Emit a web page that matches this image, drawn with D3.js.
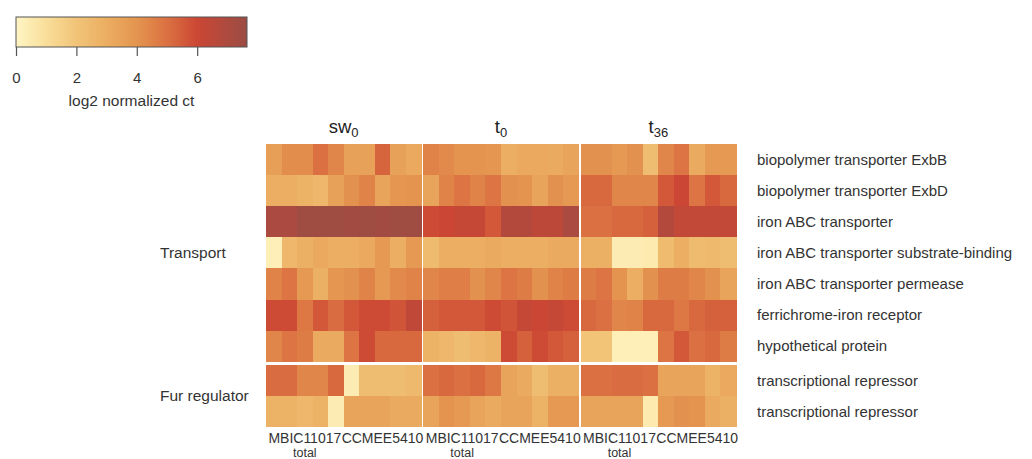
<!DOCTYPE html>
<html>
<head>
<meta charset="utf-8">
<script src="https://cdn.jsdelivr.net/npm/d3@7"></script>
<style>
  html, body { margin: 0; padding: 0; background: #fff; }
  svg { display: block; font-family: "Liberation Sans", Arial, Helvetica, sans-serif; }
</style>
</head>
<body>
<svg id="chart" width="1032" height="459"></svg>
<script>
// Gene rows (top to bottom) and their functional groups
const geneLabels = [
  "biopolymer transporter ExbB",
  "biopolymer transporter ExbD",
  "iron ABC transporter",
  "iron ABC transporter substrate-binding",
  "iron ABC transporter permease",
  "ferrichrome-iron receptor",
  "hypothetical protein",
  "transcriptional repressor",
  "transcriptional repressor"
];
const groupNames = ["Transport", "Fur regulator"];
const groupSizes = [7, 2];

// Conditions (panels) and strains within each panel
const conditionBase = ["sw", "t", "t"];
const conditionSub = ["0", "0", "36"];
const strains = ["MBIC11017", "CCMEE5410"];
const strainSubLabels = ["total", ""];
const replicatesPerStrain = 5;

// log2 normalized counts: rows = genes, columns = 5 MBIC11017 + 5 CCMEE5410 samples
const sw0Values = [
  [3.6, 4.2, 4.2, 5.0, 4.4, 3.5, 3.5, 5.3, 3.5, 3.2],
  [3.0, 3.0, 2.8, 2.6, 3.5, 4.1, 4.5, 3.4, 3.9, 4.0],
  [7.1, 7.1, 7.5, 7.5, 7.5, 7.4, 7.5, 7.4, 7.5, 7.5],
  [0.3, 2.6, 2.9, 3.2, 3.0, 3.0, 3.2, 3.8, 3.0, 3.8],
  [4.5, 4.9, 3.8, 2.9, 3.9, 4.1, 4.5, 3.8, 4.3, 4.5],
  [5.9, 5.9, 4.8, 5.6, 5.1, 5.6, 5.9, 5.9, 5.7, 6.4],
  [4.4, 4.9, 4.7, 3.1, 3.1, 4.9, 5.9, 5.2, 5.2, 5.2],
  [5.1, 5.1, 4.4, 4.4, 5.2, 0.4, 2.3, 2.3, 2.3, 2.5],
  [2.8, 2.8, 2.6, 2.8, 0.4, 3.4, 3.4, 3.4, 3.1, 3.1]
];
const t0Values = [
  [4.5, 4.3, 4.0, 4.0, 3.9, 3.0, 3.2, 3.2, 3.1, 3.4],
  [3.4, 4.5, 4.9, 4.5, 4.9, 4.1, 4.0, 3.4, 4.1, 3.8],
  [5.9, 6.0, 6.2, 6.2, 5.6, 6.8, 6.8, 6.5, 6.5, 7.1],
  [2.4, 3.0, 3.0, 3.0, 3.1, 3.0, 3.0, 3.0, 3.1, 3.1],
  [4.4, 4.6, 4.6, 4.1, 4.4, 4.9, 4.7, 4.1, 4.5, 4.7],
  [5.4, 5.6, 5.6, 5.6, 5.9, 5.7, 6.2, 6.0, 6.2, 5.9],
  [2.8, 2.6, 2.3, 2.6, 2.8, 5.9, 5.4, 5.9, 5.6, 5.4],
  [5.0, 5.2, 5.0, 5.2, 4.8, 3.4, 3.1, 2.3, 2.9, 2.9],
  [3.4, 4.0, 3.8, 3.4, 3.1, 3.4, 3.4, 2.8, 3.8, 3.8]
];
const t36Values = [
  [4.1, 4.1, 3.8, 4.1, 2.3, 4.4, 4.9, 3.1, 3.8, 3.8],
  [5.2, 5.2, 4.4, 4.4, 4.4, 5.6, 6.0, 4.9, 5.6, 5.2],
  [5.0, 5.0, 5.2, 5.2, 5.4, 6.8, 6.3, 6.3, 6.3, 6.3],
  [2.9, 2.9, 0.4, 0.4, 0.5, 2.4, 3.0, 2.4, 2.5, 2.3],
  [4.7, 4.9, 4.0, 3.0, 4.1, 4.7, 4.7, 4.4, 4.1, 3.4],
  [5.2, 5.0, 4.4, 4.5, 5.2, 5.2, 4.8, 5.2, 5.4, 5.4],
  [2.0, 2.0, 0.3, 0.3, 0.3, 4.9, 5.6, 5.0, 5.2, 4.7],
  [5.0, 5.0, 5.1, 5.1, 5.0, 3.4, 3.4, 3.4, 2.8, 3.2],
  [3.4, 3.4, 3.4, 3.4, 0.5, 3.8, 4.1, 4.0, 3.1, 2.9]
];
const panelValues = [sw0Values, t0Values, t36Values];

// Colour key
const colorStops = [0, 1, 2, 3, 4, 5, 6, 7, 7.65];
const colorRange = ["#fff6c4", "#f8de9a", "#f1c478", "#ebae62", "#e4944f", "#db7142", "#cb4634", "#ad4a3f", "#9b4c44"];
const legendTicks = [0, 2, 4, 6];
const legendTitle = "log2 normalized ct";

const svg = d3.select("#chart");
const textColor = "#333";

const color = d3.scaleLinear()
  .domain(colorStops)
  .range(colorRange)
  .interpolate(d3.interpolateLab)
  .clamp(true);

// ---- Heatmap layout ----
const heatLeft = 266, heatRight = 736;
const heatTop = 144, rowH = 31.1, groupGap = 3;

const panelX = d3.scaleBand()
  .domain(d3.range(conditionBase.length))
  .range([heatLeft, heatRight])
  .paddingInner(0.0128);

const nCols = strains.length * replicatesPerStrain;
const colX = d3.scaleBand()
  .domain(d3.range(nCols))
  .range([0, panelX.bandwidth()]);

// row index -> group index
const rowGroup = [];
groupSizes.forEach((n, g) => { for (let i = 0; i < n; i++) rowGroup.push(g); });

const rowY = d3.scaleBand()
  .domain(d3.range(geneLabels.length))
  .range([heatTop, heatTop + rowH * geneLabels.length]);
const yOf = i => rowY(i) + rowGroup[i] * groupGap;

// Cells
const cells = [];
panelValues.forEach((mat, p) => {
  mat.forEach((row, r) => {
    row.forEach((v, c) => cells.push({ p, r, c, v }));
  });
});

svg.append("g")
  .attr("shape-rendering", "crispEdges")
  .selectAll("rect")
  .data(cells)
  .join("rect")
  .attr("x", d => panelX(d.p) + colX(d.c))
  .attr("y", d => yOf(d.r))
  .attr("width", colX.bandwidth() + 0.5)
  .attr("height", rowY.bandwidth() + 0.5)
  .attr("fill", d => color(d.v));

// Panel headers with subscript
const headers = svg.append("g")
  .selectAll("text")
  .data(conditionBase.map((b, i) => ({ b, s: conditionSub[i], i })))
  .join("text")
  .attr("x", d => panelX(d.i) + panelX.bandwidth() / 2)
  .attr("y", 133)
  .attr("text-anchor", "middle")
  .attr("font-size", 18.5)
  .attr("fill", "#222");
headers.append("tspan").text(d => d.b);
headers.append("tspan")
  .attr("font-size", 13)
  .attr("dy", 4)
  .text(d => d.s);

// Row labels (right)
svg.append("g")
  .selectAll("text")
  .data(geneLabels.map((t, i) => ({ t, i })))
  .join("text")
  .attr("x", 757)
  .attr("y", d => yOf(d.i) + rowY.bandwidth() / 2)
  .attr("dy", "0.35em")
  .attr("font-size", 15)
  .attr("fill", textColor)
  .text(d => d.t);

// Group labels (left)
let start = 0;
const groupData = groupNames.map((name, g) => {
  const first = start, last = start + groupSizes[g] - 1;
  start += groupSizes[g];
  return { name, mid: (yOf(first) + yOf(last) + rowY.bandwidth()) / 2 };
});
svg.append("g")
  .selectAll("text")
  .data(groupData)
  .join("text")
  .attr("x", 160)
  .attr("y", d => d.mid)
  .attr("dy", "0.35em")
  .attr("font-size", 15.5)
  .attr("fill", textColor)
  .text(d => d.name);

// Strain labels under each panel
const strainX = d3.scaleBand()
  .domain(d3.range(strains.length))
  .range([0, panelX.bandwidth()]);
const strainLabels = [];
conditionBase.forEach((_, p) => strains.forEach((s, k) => strainLabels.push({ p, k, s, sub: strainSubLabels[k] })));
const heatBottom = yOf(geneLabels.length - 1) + rowY.bandwidth();
const sl = svg.append("g")
  .selectAll("g")
  .data(strainLabels)
  .join("g")
  .attr("transform", d => `translate(${panelX(d.p) + strainX(d.k) + strainX.bandwidth() / 2},${heatBottom})`);
sl.append("text")
  .attr("y", 16)
  .attr("text-anchor", "middle")
  .attr("font-size", 14)
  .attr("fill", textColor)
  .text(d => d.s);
sl.append("text")
  .attr("y", 30)
  .attr("text-anchor", "middle")
  .attr("font-size", 12.5)
  .attr("fill", textColor)
  .text(d => d.sub);

// ---- Colour key ----
const keyLeft = 16, keyRight = 247, keyTop = 17, keyH = 30;
const keyScale = d3.scaleLinear()
  .domain([colorStops[0], colorStops[colorStops.length - 1]])
  .range([keyLeft, keyRight]);

const grad = svg.append("defs").append("linearGradient")
  .attr("id", "keygrad")
  .attr("x1", "0%").attr("x2", "100%").attr("y1", "0%").attr("y2", "0%");
d3.range(0, 1.0001, 0.02).forEach(t => {
  const v = keyScale.invert(keyLeft + t * (keyRight - keyLeft));
  grad.append("stop").attr("offset", (t * 100) + "%").attr("stop-color", color(v));
});

svg.append("rect")
  .attr("x", keyLeft).attr("y", keyTop)
  .attr("width", keyRight - keyLeft).attr("height", keyH)
  .attr("fill", "url(#keygrad)")
  .attr("stroke", "#555")
  .attr("stroke-width", 1);

const keyAxis = svg.append("g")
  .attr("transform", `translate(0,${keyTop + keyH})`)
  .call(d3.axisBottom(keyScale).tickValues(legendTicks).tickSize(9).tickPadding(16).tickFormat(d3.format("d")));
keyAxis.select(".domain").remove();
keyAxis.selectAll(".tick line").attr("stroke", "#555").attr("stroke-width", 1.2);
keyAxis.selectAll(".tick text")
  .attr("font-family", "\"Liberation Sans\", Arial, sans-serif")
  .attr("font-size", 15)
  .attr("fill", textColor);

svg.append("text")
  .attr("x", (keyLeft + keyRight) / 2)
  .attr("y", 106)
  .attr("text-anchor", "middle")
  .attr("font-size", 15.5)
  .attr("fill", textColor)
  .text(legendTitle);
</script>
</body>
</html>
